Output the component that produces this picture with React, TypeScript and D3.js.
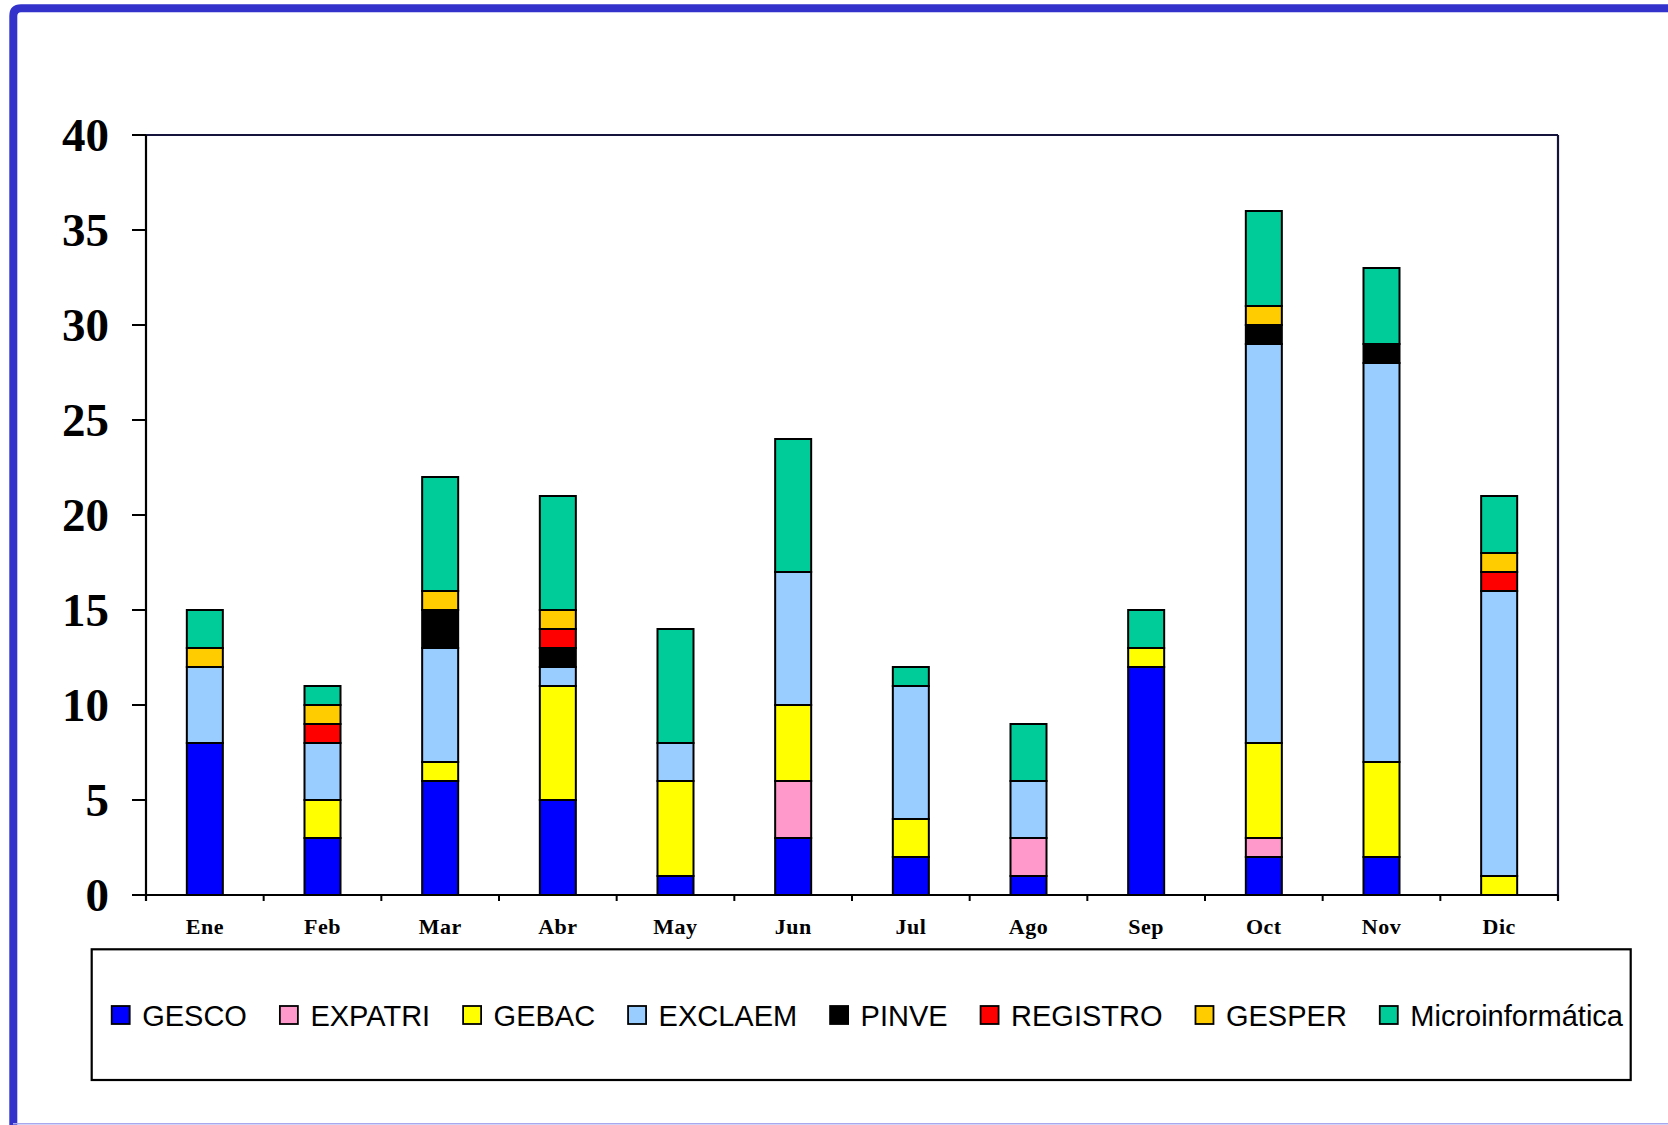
import React, { useMemo } from "react";
import * as d3 from "d3";

const months = ["Ene", "Feb", "Mar", "Abr", "May", "Jun", "Jul", "Ago", "Sep", "Oct", "Nov", "Dic"];
const seriesNames = ["GESCO", "EXPATRI", "GEBAC", "EXCLAEM", "PINVE", "REGISTRO", "GESPER", "Microinformática"];
const seriesColors = ["#0000FF", "#FF99CC", "#FFFF00", "#99CCFF", "#000000", "#FF0000", "#FFCC00", "#00CC99"];

const GESCO = [8, 3, 6, 5, 1, 3, 2, 1, 12, 2, 2, 0];
const EXPATRI = [0, 0, 0, 0, 0, 3, 0, 2, 0, 1, 0, 0];
const GEBAC = [0, 2, 1, 6, 5, 4, 2, 0, 1, 5, 5, 1];
const EXCLAEM = [4, 3, 6, 1, 2, 7, 7, 3, 0, 21, 21, 15];
const PINVE = [0, 0, 2, 1, 0, 0, 0, 0, 0, 1, 1, 0];
const REGISTRO = [0, 1, 0, 1, 0, 0, 0, 0, 0, 0, 0, 1];
const GESPER = [1, 1, 1, 1, 0, 0, 0, 0, 0, 1, 0, 1];
const MICRO = [2, 1, 6, 6, 6, 7, 1, 3, 2, 5, 4, 3];

const yTicks = [0, 5, 10, 15, 20, 25, 30, 35, 40];

const W = 1668;
const H = 1125;
const plot = { left: 146, right: 1558, top: 135, bottom: 895 };
const serif = "'Liberation Serif', 'Times New Roman', serif";
const sans = "'Liberation Sans', Arial, sans-serif";
const legendFont = 29;

export default function App() {
  if (typeof document !== "undefined") document.body.style.margin = "0";

  const seriesValues = [GESCO, EXPATRI, GEBAC, EXCLAEM, PINVE, REGISTRO, GESPER, MICRO];
  const rows = months.map((m, i) => {
    const r: any = { month: m };
    seriesNames.forEach((s, k) => (r[s] = seriesValues[k][i]));
    return r;
  });
  const stacked = d3.stack().keys(seriesNames)(rows);

  const x = d3
    .scaleBand()
    .domain(months)
    .range([plot.left, plot.right])
    .paddingInner(0.694)
    .paddingOuter(0.347);
  const y = d3.scaleLinear().domain([0, 40]).range([plot.bottom, plot.top]);
  const step = (plot.right - plot.left) / months.length;

  const legendLayout = useMemo(() => {
    const canvas = document.createElement("canvas");
    const ctx = canvas.getContext("2d")!;
    ctx.font = `${legendFont}px 'Liberation Sans', Arial, sans-serif`;
    const widths = seriesNames.map((s) => ctx.measureText(s).width);
    const start = 111.7;
    const end = 1623;
    const textOff = 30.5;
    const total = widths.reduce((a, w) => a + w + textOff, 0);
    const gap = (end - start - total) / (seriesNames.length - 1);
    const xs: number[] = [];
    let cx = start;
    widths.forEach((w) => {
      xs.push(cx);
      cx += textOff + w + gap;
    });
    return xs;
  }, []);

  return (
    <svg width={W} height={H} viewBox={`0 0 ${W} ${H}`} style={{ display: "block", background: "#fff" }}>
      {/* slide frame */}
      <path
        d={`M13.3,${H + 20} L13.3,16 Q13.3,8.2 21,8.2 L${W + 20},8.2`}
        fill="none"
        stroke="#3333CC"
        strokeWidth={8}
      />
      <line x1={13} x2={W} y1={1123.8} y2={1123.8} stroke="#A8A8EE" strokeWidth={1.5} />

      {/* plot frame top/right */}
      <line x1={plot.left} x2={plot.right} y1={plot.top} y2={plot.top} stroke="#14143C" strokeWidth={2.2} />
      <line x1={plot.right} x2={plot.right} y1={plot.top} y2={plot.bottom + 6} stroke="#14143C" strokeWidth={2.2} />

      {/* bars */}
      {stacked.map((s, k) => (
        <g key={s.key} fill={seriesColors[k]} stroke="#000" strokeWidth={2}>
          {s.map((d, i) =>
            d[1] - d[0] > 0 ? (
              <rect
                key={i}
                x={x(months[i])!}
                y={y(d[1])}
                width={x.bandwidth()}
                height={y(d[0]) - y(d[1])}
              />
            ) : null
          )}
        </g>
      ))}

      {/* y axis */}
      <line x1={plot.left} x2={plot.left} y1={plot.top} y2={plot.bottom + 6} stroke="#000" strokeWidth={2.2} />
      {yTicks.map((t) => (
        <g key={t}>
          <line x1={plot.left - 14} x2={plot.left} y1={y(t)} y2={y(t)} stroke="#000" strokeWidth={2} />
          <text
            x={109}
            y={y(t) + 16}
            textAnchor="end"
            fontFamily={serif}
            fontWeight="bold"
            fontSize={47}
            fill="#000"
          >
            {t}
          </text>
        </g>
      ))}

      {/* x axis */}
      <line x1={plot.left - 14} x2={plot.right} y1={plot.bottom} y2={plot.bottom} stroke="#000" strokeWidth={2.2} />
      {d3.range(months.length + 1).map((i) => (
        <line
          key={i}
          x1={plot.left + i * step}
          x2={plot.left + i * step}
          y1={plot.bottom}
          y2={plot.bottom + 6}
          stroke="#000"
          strokeWidth={2}
        />
      ))}
      {months.map((m) => (
        <text
          key={m}
          x={x(m)! + x.bandwidth() / 2}
          y={934}
          textAnchor="middle"
          fontFamily={serif}
          fontWeight="bold"
          fontSize={22}
          letterSpacing={0.5}
          fill="#000"
        >
          {m}
        </text>
      ))}

      {/* legend */}
      <rect x={91.7} y={949.3} width={1539} height={130.7} fill="#fff" stroke="#000" strokeWidth={2.2} />
      {seriesNames.map((s, k) => (
        <g key={s}>
          <rect
            x={legendLayout[k]}
            y={1006}
            width={18}
            height={18}
            fill={seriesColors[k]}
            stroke="#000"
            strokeWidth={1.8}
          />
          <text x={legendLayout[k] + 30.5} y={1025.5} fontFamily={sans} fontSize={legendFont} fill="#000">
            {s}
          </text>
        </g>
      ))}
    </svg>
  );
}
